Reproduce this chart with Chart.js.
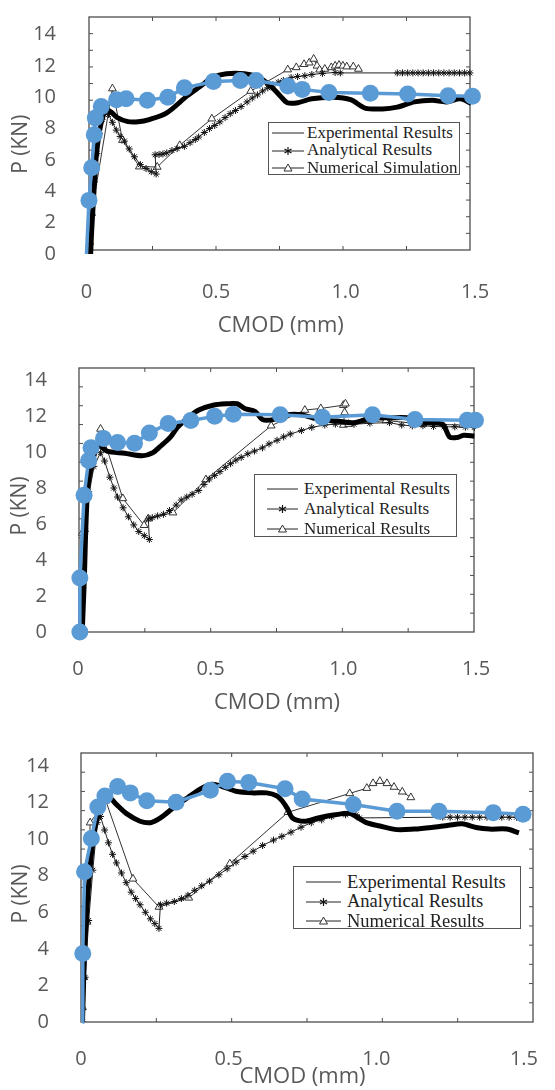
<!DOCTYPE html>
<html>
<head>
<meta charset="utf-8">
<script src="https://cdn.jsdelivr.net/npm/chart.js@4.4.1/dist/chart.umd.min.js"></script>
<style>
  body { margin: 0; background: #fff; width: 555px; height: 1090px; position: relative; overflow: hidden; }
  .panel { position: absolute; left: 0; }
  .legend { position: absolute; background: #fff; border: 1px solid #555; box-sizing: border-box;
            font-family: 'Liberation Serif', 'Times New Roman', serif; color: #222; }
  .legend .row { position: absolute; left: 0; white-space: nowrap; display: flex; align-items: center; }
  .legend svg { position: absolute; }
</style>
</head>
<body>
<div class="panel" style="top:0"><canvas id="c1" width="555" height="345"></canvas></div>
<div class="panel" style="top:345px"><canvas id="c2" width="555" height="375"></canvas></div>
<div class="panel" style="top:730px"><canvas id="c3" width="555" height="360"></canvas></div>

<script>
// [CMOD (mm), P (kN)] pairs

// panel 1
const p1Blue = [[0,0],[0.0096,3.42],[0.02,5.5],[0.03,7.6],[0.034,8.67],[0.057,9.4],[0.116,9.84],[0.153,9.9],[0.235,9.8],[0.314,10.0],[0.378,10.6],[0.49,11.0],[0.594,11.07],[0.655,11.07],[0.777,10.72],[0.833,10.5],[0.936,10.3],[1.096,10.25],[1.24,10.2],[1.396,10.1],[1.49,10.06]];
const p1Exp = [[0.016,0],[0.02,1.5],[0.026,3.2],[0.037,6.1],[0.05,7.8],[0.064,8.8],[0.078,9.2],[0.095,9.05],[0.119,8.7],[0.16,8.44],[0.2,8.43],[0.242,8.57],[0.31,9.0],[0.39,10.1],[0.44,10.7],[0.488,11.27],[0.54,11.5],[0.61,11.5],[0.665,11.27],[0.713,10.68],[0.747,10.1],[0.775,9.65],[0.816,9.65],[0.87,9.9],[0.952,10.0],[1.02,9.84],[1.075,9.31],[1.143,9.25],[1.2,9.37],[1.266,9.7],[1.335,9.8],[1.39,9.7],[1.444,9.9],[1.485,9.6]];
const p1Ana = [[0.005,0],[0.012,0.75],[0.02,2.6],[0.03,4.6],[0.04,6.4],[0.05,7.7],[0.06,8.6],[0.07,9.2],[0.085,8.9],[0.1,8.4],[0.115,7.9],[0.13,7.5],[0.146,7.2],[0.165,6.7],[0.185,6.2],[0.208,5.7],[0.23,5.45],[0.25,5.25],[0.269,5.1],[0.265,6.33],[0.28,6.35],[0.295,6.38],[0.31,6.45],[0.33,6.6],[0.35,6.72],[0.378,6.87],[0.4,7.1],[0.42,7.3],[0.433,7.46],[0.455,7.75],[0.475,8.0],[0.495,8.2],[0.515,8.43],[0.535,8.7],[0.555,8.95],[0.575,9.15],[0.597,9.4],[0.62,9.7],[0.64,9.95],[0.66,10.15],[0.68,10.4],[0.7,10.6],[0.72,10.8],[0.74,10.95],[0.76,11.07],[0.79,11.25],[0.815,11.32],[0.843,11.37],[0.87,11.45],[0.911,11.52],[0.96,11.58],[0.98,11.55],[1.2,11.55],[1.22,11.55],[1.24,11.55],[1.26,11.55],[1.28,11.55],[1.3,11.55],[1.32,11.55],[1.34,11.55],[1.36,11.55],[1.38,11.55],[1.4,11.55],[1.42,11.55],[1.44,11.55],[1.46,11.55],[1.48,11.55]];
const p1Num = [[0.005,0],[0.012,0.75],[0.02,2.6],[0.1,10.55],[0.139,7.26],[0.204,5.57],[0.273,5.55],[0.36,6.93],[0.484,8.63],[0.634,10.39],[0.777,11.76],[0.81,11.9],[0.84,12.1],[0.86,12.2],[0.877,12.44],[0.89,12.0],[0.9,11.75],[0.92,11.8],[0.945,11.9],[0.96,12.0],[0.975,12.05],[0.99,12.0],[1.005,11.95],[1.03,11.95],[1.05,11.8]];

// panel 2
const p2Blue = [[0.007,0],[0.007,3.0],[0.023,7.6],[0.04,9.53],[0.049,10.23],[0.096,10.75],[0.149,10.53],[0.213,10.49],[0.269,11.05],[0.34,11.58],[0.425,11.75],[0.515,11.98],[0.585,12.1],[0.762,12.07],[0.921,11.93],[1.11,12.07],[1.27,11.8],[1.467,11.77],[1.498,11.77]];
const p2Exp = [[0.016,0],[0.02,1.5],[0.023,2.6],[0.036,7.86],[0.056,9.6],[0.08,10.35],[0.109,10.05],[0.176,9.93],[0.242,9.79],[0.282,9.96],[0.309,10.3],[0.349,10.84],[0.375,11.37],[0.415,11.9],[0.455,12.33],[0.509,12.6],[0.562,12.68],[0.6,12.68],[0.628,12.42],[0.668,12.25],[0.695,11.8],[0.735,11.8],[0.788,12.07],[0.842,12.07],[0.908,11.8],[0.975,11.72],[1.04,11.63],[1.108,11.9],[1.174,11.9],[1.241,11.9],[1.308,11.63],[1.374,11.54],[1.4,10.84],[1.427,10.8],[1.454,10.93],[1.494,10.88]];
const p2Ana = [[0.016,0],[0.02,3.0],[0.028,5.6],[0.04,7.8],[0.06,9.2],[0.085,9.96],[0.1,9.5],[0.12,8.6],[0.135,8.0],[0.149,7.5],[0.17,6.9],[0.19,6.4],[0.21,5.95],[0.229,5.58],[0.25,5.35],[0.269,5.14],[0.265,6.28],[0.28,6.35],[0.3,6.45],[0.322,6.54],[0.345,6.75],[0.37,7.05],[0.389,7.33],[0.41,7.5],[0.43,7.65],[0.455,7.86],[0.475,8.2],[0.495,8.5],[0.515,8.7],[0.535,8.91],[0.555,9.15],[0.575,9.35],[0.595,9.55],[0.615,9.7],[0.64,9.9],[0.665,10.05],[0.695,10.23],[0.72,10.45],[0.75,10.65],[0.775,10.84],[0.8,11.0],[0.842,11.19],[0.881,11.37],[0.93,11.5],[0.97,11.55],[1.04,11.54],[1.1,11.6],[1.174,11.63],[1.22,11.5],[1.26,11.45],[1.3,11.46],[1.34,11.42],[1.38,11.4],[1.42,11.4],[1.46,11.38],[1.494,11.37]];
const p2Num = [[0.01,0],[0.016,5.5],[0.085,11.28],[0.169,7.42],[0.249,5.93],[0.265,6.3],[0.358,6.63],[0.482,8.47],[0.728,11.46],[0.855,12.33],[0.915,12.42],[1.0,12.6],[1.008,12.68],[1.005,12.2],[1.0,11.5],[1.02,11.55],[1.161,11.75],[1.3,11.55],[1.45,11.5],[1.5,11.45]];

// panel 3
const p3Blue = [[0.005,0],[0.006,3.74],[0.012,8.22],[0.035,10.03],[0.057,11.76],[0.081,12.36],[0.124,12.88],[0.167,12.53],[0.223,12.1],[0.322,12.02],[0.438,12.67],[0.496,13.17],[0.568,13.1],[0.691,12.76],[0.749,12.19],[0.922,11.9],[1.07,11.53],[1.212,11.53],[1.396,11.45],[1.497,11.36]];
const p3Exp = [[0.005,0],[0.014,4.52],[0.031,8.48],[0.049,10.72],[0.072,11.93],[0.095,12.28],[0.118,11.93],[0.153,11.41],[0.2,10.98],[0.235,10.9],[0.269,11.16],[0.316,11.76],[0.362,12.28],[0.409,12.79],[0.444,13.0],[0.478,12.88],[0.525,12.62],[0.583,12.53],[0.629,12.53],[0.664,12.36],[0.681,12.1],[0.699,11.67],[0.716,11.16],[0.757,10.98],[0.803,11.16],[0.861,11.33],[0.908,11.41],[0.931,11.24],[0.966,10.9],[1.012,10.72],[1.07,10.52],[1.128,10.55],[1.187,10.64],[1.245,10.76],[1.291,10.84],[1.338,10.64],[1.384,10.55],[1.442,10.55],[1.483,10.34]];
const p3Ana = [[0.005,0],[0.014,2.45],[0.026,5.55],[0.04,8.3],[0.055,10.9],[0.066,11.24],[0.08,10.5],[0.093,9.8],[0.107,9.17],[0.12,8.7],[0.137,8.15],[0.153,7.62],[0.17,7.1],[0.185,6.75],[0.2,6.41],[0.218,6.0],[0.235,5.64],[0.25,5.38],[0.264,5.12],[0.269,6.41],[0.29,6.5],[0.316,6.59],[0.34,6.75],[0.362,6.93],[0.385,7.2],[0.409,7.45],[0.435,7.7],[0.467,8.05],[0.495,8.38],[0.525,8.74],[0.555,9.05],[0.583,9.34],[0.615,9.65],[0.652,9.95],[0.68,10.15],[0.711,10.38],[0.745,10.65],[0.78,10.9],[0.815,11.05],[0.849,11.24],[0.896,11.33],[0.931,11.33],[0.943,11.16],[1.225,11.2],[1.25,11.2],[1.275,11.2],[1.3,11.2],[1.325,11.2],[1.35,11.2],[1.375,11.2],[1.4,11.2],[1.425,11.2],[1.45,11.2],[1.475,11.2],[1.5,11.2]];
const p3Num = [[0.003,0],[0.005,0.8],[0.009,2.45],[0.02,5.47],[0.031,10.9],[0.084,12.1],[0.176,7.83],[0.264,6.29],[0.365,6.79],[0.504,8.66],[0.701,11.47],[0.91,12.5],[0.968,12.79],[0.989,13.05],[1.012,13.17],[1.036,13.05],[1.06,12.85],[1.088,12.59],[1.117,12.28]];

const xTicks = [0, 0.5, 1, 1.5];
const yTicks = [0, 2, 4, 6, 8, 10, 12, 14];
const legendLabels1 = ['Experimental Results', 'Analytical Results', 'Numerical Simulation'];
const legendLabels23 = ['Experimental Results', 'Analytical Results', 'Numerical Results'];

const toXY = arr => arr.map(p => ({ x: p[0], y: p[1] }));

Chart.defaults.font.family = "'Open Sans', sans-serif";
Chart.defaults.color = '#595959';

// MATLAB style box with inward ticks, drawn behind the data
const matlabFrame = {
  id: 'matlabFrame',
  beforeDatasetsDraw(chart, args, o) {
    const ctx = chart.ctx;
    ctx.save();
    ctx.strokeStyle = '#4d4d4d';
    ctx.lineWidth = 1.3;
    ctx.strokeRect(o.l, o.t, o.r - o.l, o.b - o.t);
    ctx.lineWidth = 1;
    ctx.beginPath();
    for (let i = 1; i < 6; i++) {
      const x = o.l + (o.r - o.l) * i / 6;
      ctx.moveTo(x, o.t); ctx.lineTo(x, o.t + 4);
      ctx.moveTo(x, o.b); ctx.lineTo(x, o.b - 4);
    }
    for (let j = 1; j < 14; j++) {
      const y = o.t + (o.b - o.t) * j / 14;
      ctx.moveTo(o.l, y); ctx.lineTo(o.l + 4, y);
      ctx.moveTo(o.r, y); ctx.lineTo(o.r - 4, y);
    }
    ctx.stroke();
    ctx.restore();
  }
};

function makeChart(id, h, area, frame, pads, series, hideFirstBlue) {
  const [blue, exp, ana, num] = series;
  new Chart(document.getElementById(id), {
    type: 'line',
    data: {
      datasets: [
        {
          label: 'Model', data: toXY(blue), order: 0,
          borderColor: '#5B9BD5', backgroundColor: '#5B9BD5', borderWidth: 3.5,
          pointRadius: c => (hideFirstBlue && c.dataIndex === 0) ? 0 : 8.5,
          pointBorderWidth: 0, pointBackgroundColor: '#5B9BD5', tension: 0, clip: false
        },
        {
          label: 'Experimental Results', data: toXY(exp), order: 1,
          borderColor: '#000', borderWidth: 5, pointRadius: 0, tension: 0.3
        },
        {
          label: 'Analytical Results', data: toXY(ana), order: 2,
          borderColor: '#222', borderWidth: 1, pointStyle: 'star', pointRadius: 3.5,
          pointBorderColor: '#111', pointBorderWidth: 1, tension: 0
        },
        {
          label: 'Numerical Results', data: toXY(num), order: 3,
          borderColor: '#333', borderWidth: 1, pointStyle: 'triangle', pointRadius: 4.5,
          pointBackgroundColor: '#fff', pointBorderColor: '#333', pointBorderWidth: 1, tension: 0
        }
      ]
    },
    options: {
      responsive: false,
      animation: false,
      layout: { padding: { left: 0, right: 555 - area.r, top: area.t, bottom: 0 } },
      plugins: {
        legend: { display: false },
        tooltip: { enabled: false },
        matlabFrame: frame
      },
      scales: {
        x: {
          type: 'linear', min: 0, max: 1.5,
          afterBuildTicks: s => { s.ticks = xTicks.map(v => ({ value: v })); },
          afterFit: s => { s.height = h - area.b; },
          grid: { display: false }, border: { display: false },
          ticks: { padding: pads.x, font: { size: 20 }, color: '#595959' },
          title: { display: true, text: 'CMOD (mm)', font: { size: 22 }, color: '#595959', padding: { top: 0, bottom: pads.xt } }
        },
        y: {
          type: 'linear', min: 0, max: 14,
          afterBuildTicks: s => { s.ticks = yTicks.map(v => ({ value: v })); },
          afterFit: s => { s.width = area.l; },
          grid: { display: false }, border: { display: false },
          ticks: { padding: pads.y, font: { size: 20 }, color: '#595959' },
          title: { display: true, text: 'P (KN)', font: { size: 21 }, color: '#595959', padding: { top: pads.yt, bottom: 0 } }
        }
      }
    },
    plugins: [matlabFrame]
  });
}

makeChart('c1', 345, { l: 86.5, r: 475, t: 15, b: 254 }, { l: 89, r: 470, t: 17, b: 250 },
  { x: 18, xt: 6, y: 22.5, yt: 8.4 }, [p1Blue, p1Exp, p1Ana, p1Num], true);
makeChart('c2', 375, { l: 78, r: 476, t: 22, b: 287 }, { l: 79, r: 474, t: 23, b: 287 },
  { x: 17.5, xt: 4.5, y: 23, yt: 7 }, [p2Blue, p2Exp, p2Ana, p2Num], false);
makeChart('c3', 360, { l: 81, r: 538, t: 22, b: 292 }, { l: 81, r: 533, t: 23, b: 292 },
  { x: 17, xt: 0, y: 24, yt: 8.4 }, [p3Blue, p3Exp, p3Ana, p3Num], true);

// legend boxes drawn as html over the plots
function sample(kind, w) {
  const m = w / 2;
  let marker = '';
  if (kind === 1) {
    marker = `<path d="M${m} 2 V10 M${m - 3.5} 4 L${m + 3.5} 8 M${m - 3.5} 8 L${m + 3.5} 4" stroke="#111" stroke-width="1.2"/>`;
  } else if (kind === 2) {
    marker = `<polygon points="${m},2 ${m + 4},9 ${m - 4},9" fill="#fff" stroke="#333" stroke-width="1"/>`;
  }
  return `<svg width="${w}" height="12" style="left:0;top:-6px"><line x1="0" y1="6" x2="${w}" y2="6" stroke="#222" stroke-width="1"/>${marker}</svg>`;
}

function makeLegend(box, labels) {
  const div = document.createElement('div');
  div.className = 'legend';
  div.style.left = box.x + 'px';
  div.style.top = box.y + 'px';
  div.style.width = box.w + 'px';
  div.style.height = box.h + 'px';
  div.style.fontSize = box.fs + 'px';
  labels.forEach((txt, i) => {
    const rowY = box.row0 + i * box.rowH;
    const s = document.createElement('div');
    s.style.position = 'absolute';
    s.style.left = box.sx + 'px';
    s.style.top = rowY + 'px';
    s.innerHTML = sample(i, box.sw);
    div.appendChild(s);
    const t = document.createElement('div');
    t.className = 'row';
    t.style.left = box.tx + 'px';
    t.style.top = (rowY - box.fs * 0.6) + 'px';
    t.style.lineHeight = (box.fs * 1.2) + 'px';
    t.textContent = txt;
    div.appendChild(t);
  });
  document.body.appendChild(div);
}

makeLegend({ x: 268, y: 122, w: 192, h: 53, fs: 17, row0: 10, rowH: 17.5, sx: 3, sw: 32, tx: 38 }, legendLabels1);
makeLegend({ x: 254, y: 474, w: 203, h: 63, fs: 17, row0: 14, rowH: 20, sx: 12, sw: 31, tx: 49 }, legendLabels23);
makeLegend({ x: 293, y: 866, w: 228, h: 63, fs: 18.5, row0: 15, rowH: 19.5, sx: 12, sw: 35, tx: 53 }, legendLabels23);
</script>
</body>
</html>
